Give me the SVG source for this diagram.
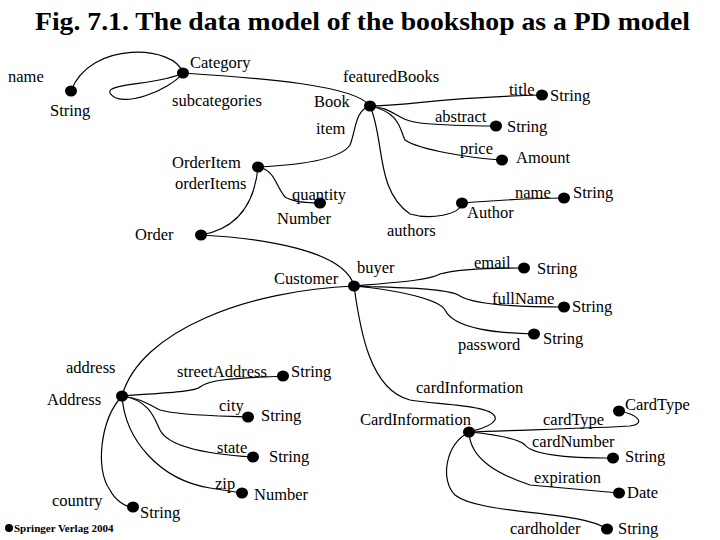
<svg xmlns="http://www.w3.org/2000/svg" width="720" height="540" viewBox="0 0 720 540">
<style>
text{font-family:"Liberation Serif","Times New Roman",serif;font-size:16.5px;fill:#000}
.t{font-size:25px;font-weight:bold}
.s{font-size:11px;font-weight:bold}
path{fill:none;stroke:#000;stroke-width:1.2}
ellipse{fill:#000}
</style>
<rect width="720" height="540" fill="#fff"/>
<text class="t" x="35" y="30" textLength="655" lengthAdjust="spacingAndGlyphs">Fig. 7.1. The data model of the bookshop as a PD model</text>
<g id="connectors">
<path d="M183,73 C175,45 90,40 71,91"/>
<path d="M183,73 C170,90 120,110 110,93 C105,83 160,85 183,73"/>
<path d="M183,73 C260,78 355,85 370,106"/>
<path d="M370,106 C355,110 356,130 350,145 C340,160 300,165 258,167"/>
<path d="M258,167 C275,170 275,185 285,197 C295,203 310,203 320,203"/>
<path d="M258,167 C255,200 240,228 201,235"/>
<path d="M201,235 C260,238 345,250 354,286"/>
<path d="M370,106 C420,105 430,98 542,95"/>
<path d="M370,106 C395,108 395,120 420,123 C450,126 480,126 496,126"/>
<path d="M370,106 C400,112 400,130 405,140 C420,150 470,158 502,160"/>
<path d="M370,106 C385,140 375,190 410,214 C430,220 460,215 462,203"/>
<path d="M462,203 C500,200 530,198 564,198"/>
<path d="M354,286 C400,282 430,280 440,274 C460,268 500,268 524,268"/>
<path d="M354,286 C400,288 450,288 460,296 C475,305 520,307 564,307"/>
<path d="M354,286 C400,290 440,300 445,310 C455,330 500,333 534,334"/>
<path d="M354,286 C250,290 140,330 122,396"/>
<path d="M354,286 C360,330 370,390 410,400 C440,405 500,405 495,420 C490,428 475,430 469,432"/>
<path d="M122,396 C160,393 195,392 200,387 C210,378 250,378 283,376"/>
<path d="M122,396 C140,398 150,405 160,410 C180,416 230,416 248,417"/>
<path d="M122,396 C150,400 155,420 160,430 C170,450 220,455 253,457"/>
<path d="M122,396 C125,440 160,480 210,488 L242,493"/>
<path d="M122,396 C100,420 95,470 110,490 C115,500 125,507 133,507"/>
<path d="M469,432 C520,430 600,428 630,426 C645,424 640,415 619,411"/>
<path d="M469,432 C500,435 520,440 525,445 C535,458 590,458 613,458"/>
<path d="M469,432 C470,460 500,475 530,485 L619,493"/>
<path d="M469,432 C445,445 440,480 455,495 C480,515 580,510 607,529"/>
</g>
<g id="n-category"><ellipse cx="183" cy="73" rx="6" ry="5.5"/><text x="190" y="68">Category</text><text x="172" y="106">subcategories</text><text x="343" y="82">featuredBooks</text></g>
<g id="n-name"><ellipse cx="71" cy="91" rx="6" ry="5.5"/><text x="8" y="82">name</text><text x="50" y="116">String</text></g>
<g id="n-book"><ellipse cx="370" cy="106" rx="6" ry="5.5"/><text x="314" y="107">Book</text><text x="316" y="134">item</text><text x="387" y="236">authors</text></g>
<g id="n-orderitem"><ellipse cx="258" cy="167" rx="6" ry="5.5"/><text x="172" y="168">OrderItem</text><text x="175" y="189">orderItems</text></g>
<g id="n-quantity"><ellipse cx="320" cy="203" rx="6" ry="5.5"/><text x="292" y="200">quantity</text><text x="277" y="224">Number</text></g>
<g id="n-order"><ellipse cx="201" cy="235" rx="6" ry="5.5"/><text x="135" y="240">Order</text></g>
<g id="n-customer"><ellipse cx="354" cy="286" rx="6" ry="5.5"/><text x="274" y="284">Customer</text><text x="357" y="273">buyer</text></g>
<g id="n-title"><ellipse cx="542" cy="95" rx="6" ry="5.5"/><text x="509" y="95">title</text><text x="550" y="101">String</text></g>
<g id="n-abstract"><ellipse cx="496" cy="126" rx="6" ry="5.5"/><text x="435" y="122">abstract</text><text x="507" y="132">String</text></g>
<g id="n-price"><ellipse cx="502" cy="160" rx="6" ry="5.5"/><text x="460" y="154">price</text><text x="516" y="163">Amount</text></g>
<g id="n-author"><ellipse cx="462" cy="203" rx="6" ry="5.5"/><text x="467" y="218">Author</text></g>
<g id="n-authorname"><ellipse cx="564" cy="198" rx="6" ry="5.5"/><text x="515" y="198">name</text><text x="573" y="198">String</text></g>
<g id="n-email"><ellipse cx="524" cy="268" rx="6" ry="5.5"/><text x="474" y="268">email</text><text x="537" y="274">String</text></g>
<g id="n-fullname"><ellipse cx="564" cy="307" rx="6" ry="5.5"/><text x="492" y="304">fullName</text><text x="572" y="312">String</text></g>
<g id="n-password"><ellipse cx="534" cy="334" rx="6" ry="5.5"/><text x="458" y="350">password</text><text x="543" y="344">String</text></g>
<g id="n-address"><ellipse cx="122" cy="396" rx="6" ry="5.5"/><text x="66" y="373">address</text><text x="47" y="405">Address</text></g>
<g id="n-street"><ellipse cx="283" cy="376" rx="6" ry="5.5"/><text x="177" y="377">streetAddress</text><text x="291" y="377">String</text></g>
<g id="n-city"><ellipse cx="248" cy="417" rx="6" ry="5.5"/><text x="219" y="411">city</text><text x="261" y="421">String</text></g>
<g id="n-state"><ellipse cx="253" cy="457" rx="6" ry="5.5"/><text x="217" y="453">state</text><text x="269" y="462">String</text></g>
<g id="n-zip"><ellipse cx="242" cy="493" rx="6" ry="5.5"/><text x="215" y="489">zip</text><text x="254" y="500">Number</text></g>
<g id="n-country"><ellipse cx="133" cy="507" rx="6" ry="5.5"/><text x="52" y="506">country</text><text x="140" y="518">String</text></g>
<g id="n-cardinfo"><ellipse cx="469" cy="432" rx="6" ry="5.5"/><text x="416" y="393">cardInformation</text><text x="360" y="425">CardInformation</text></g>
<g id="n-cardtype"><ellipse cx="619" cy="411" rx="6" ry="5.5"/><text x="625" y="410">CardType</text><text x="543" y="425">cardType</text></g>
<g id="n-cardnumber"><ellipse cx="613" cy="458" rx="6" ry="5.5"/><text x="532" y="447">cardNumber</text><text x="625" y="462">String</text></g>
<g id="n-expiration"><ellipse cx="619" cy="493" rx="6" ry="5.5"/><text x="534" y="483">expiration</text><text x="627" y="498">Date</text></g>
<g id="n-cardholder"><ellipse cx="607" cy="529" rx="6" ry="5.5"/><text x="510" y="534">cardholder</text><text x="618" y="534">String</text></g>
<g id="credit"><circle cx="9" cy="528" r="4" fill="#000"/><text class="s" x="14" y="532">Springer Verlag 2004</text></g>
</svg>
